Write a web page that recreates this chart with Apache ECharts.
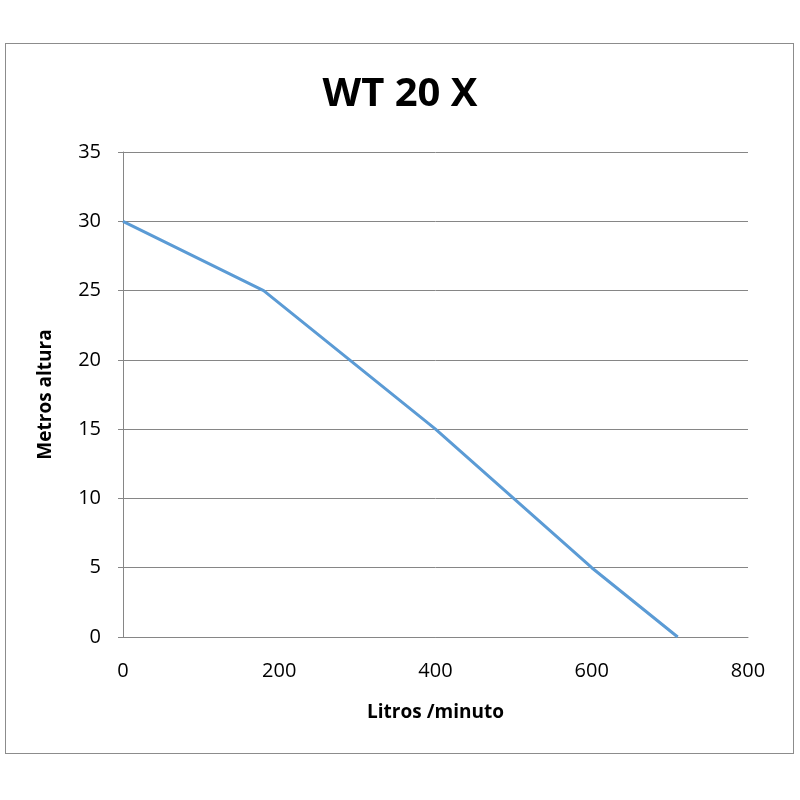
<!DOCTYPE html>
<html><head><meta charset="utf-8">
<script src="https://cdn.jsdelivr.net/npm/echarts@6/dist/echarts.min.js"></script>
<style>html,body{margin:0;padding:0;background:#fff}
#frame{position:absolute;left:5px;top:43px;width:789px;height:711px;border:1px solid #8c8c8c;box-sizing:border-box}
#c{position:absolute;left:0;top:0;width:800px;height:800px}</style>
</head><body><div id="frame"></div><div id="c"></div>
<script>
const flow = [0, 180, 290, 400, 500, 600, 710];
const height = [30, 25, 20, 15, 10, 5, 0];
const title = 'WT 20 X';
const xName = 'Litros /minuto';
const yName = 'Metros altura';
const chart = echarts.init(document.getElementById('c'));
const font = 'Open Sans, Liberation Sans, sans-serif';
chart.setOption({
  animation:false,
  title:{text:title,left:'center',top:70,textStyle:{fontFamily:font,fontSize:40,fontWeight:'bold',color:'#000'}},
  grid:{left:123,right:52,top:152,bottom:163},
  xAxis:{type:'value',min:0,max:800,interval:200,name:xName,nameLocation:'middle',nameGap:66,
    nameTextStyle:{fontFamily:font,fontSize:19,fontWeight:'bold',color:'#000'},
    axisLine:{lineStyle:{color:'#868686'}},axisTick:{show:false},
    axisLabel:{fontFamily:font,fontSize:20,color:'#000',margin:24},splitLine:{show:false}},
  yAxis:{type:'value',min:0,max:35,interval:5,name:yName,nameLocation:'middle',nameGap:68,
    nameTextStyle:{fontFamily:font,fontSize:19,fontWeight:'bold',color:'#000'},
    axisLine:{show:true,lineStyle:{color:'#868686'}},axisTick:{show:true,length:5,lineStyle:{color:'#868686'}},
    axisLabel:{fontFamily:font,fontSize:20,color:'#000',margin:22},splitLine:{lineStyle:{color:'#868686'}}},
  series:[{type:'line',data:flow.map((x,i)=>[x,height[i]]),showSymbol:false,lineStyle:{color:'#5b9bd5',width:3}}]
});
</script></body></html>
